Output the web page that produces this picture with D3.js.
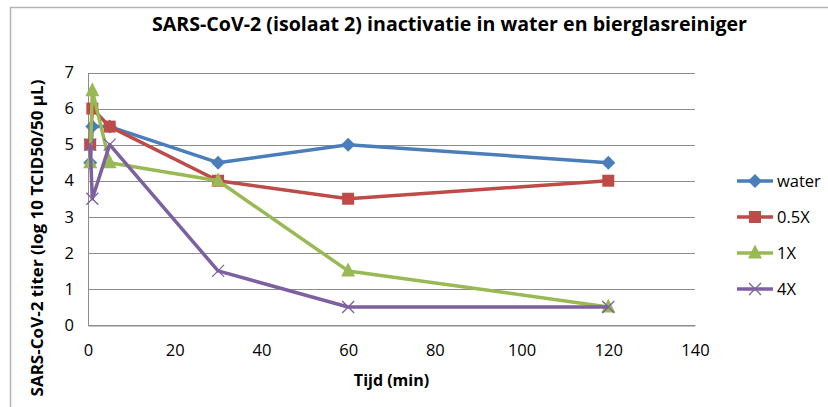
<!DOCTYPE html>
<html>
<head>
<meta charset="utf-8">
<script src="https://cdn.jsdelivr.net/npm/d3@7"></script>
<style>
  body { margin: 0; background: #fff; }
  text { font-family: 'Open Sans', 'Noto Sans', sans-serif; fill: #000; }
</style>
</head>
<body>
<svg width="828" height="407"></svg>
<script>
// sampling moments (min)
const times = [0.5, 1, 5, 30, 60, 120];

const water = [4.5, 5.5, 5.5, 4.5, 5.0, 4.5];
const half = [5.0, 6.0, 5.5, 4.0, 3.5, 4.0];
const one = [4.5, 6.5, 4.5, 4.0, 1.5, 0.5];
const four = [5.0, 3.5, 5.0, 1.5, 0.5, 0.5];

const seriesNames = ['water', '0.5X', '1X', '4X'];
const xTicks = [0, 20, 40, 60, 80, 100, 120, 140];
const yTicks = [0, 1, 2, 3, 4, 5, 6, 7];

const colors = ['#4a7ebb', '#be4b48', '#98b954', '#7d60a0'];
const markers = ['diamond', 'square', 'triangle', 'x'];

const series = [water, half, one, four].map((vals, i) => ({
    name: seriesNames[i],
    color: colors[i],
    marker: markers[i],
    points: vals.map((v, j) => ({ t: times[j], v })),
}));

const svg = d3.select('svg');

const plot = { left: 88, right: 695, top: 72.5, bottom: 325 };

const x = d3.scaleLinear()
    .domain([0, 140])
    .range([plot.left, plot.right]);

const y = d3.scaleLinear()
    .domain([0, 7])
    .range([plot.bottom, plot.top]);

// outer chart frame (cropped on right and bottom)
svg.append('path')
    .attr('d', 'M10.5,407 V7.5 H828')
    .attr('fill', 'none')
    .attr('stroke', '#b3b3b3')
    .attr('stroke-width', 1.5);

svg.append('text')
    .attr('x', 152)
    .attr('y', 31)
    .attr('font-size', 19)
    .attr('font-weight', 'bold')
    .attr('textLength', 595)
    .attr('lengthAdjust', 'spacingAndGlyphs')
    .text('SARS-CoV-2 (isolaat 2) inactivatie in water en bierglasreiniger');

// gridlines
svg.append('g')
    .selectAll('line')
    .data(yTicks)
    .join('line')
    .attr('x1', plot.left)
    .attr('x2', plot.right)
    .attr('y1', d => Math.round(y(d)) + 0.5)
    .attr('y2', d => Math.round(y(d)) + 0.5)
    .attr('stroke', '#8c8c8c')
    .attr('stroke-width', 1);

// axes
const yAxis = svg.append('g')
    .attr('transform', `translate(${plot.left},0)`)
    .call(d3.axisLeft(y).tickValues(yTicks).tickSize(0).tickPadding(14).tickFormat(d3.format('d')));

const xAxis = svg.append('g')
    .attr('transform', `translate(0,${Math.round(plot.bottom) + 0.5})`)
    .call(d3.axisBottom(x).tickValues(xTicks).tickSize(0).tickPadding(19).tickFormat(d3.format('d')));

[xAxis, yAxis].forEach((g) => {
    g.select('.domain').attr('stroke', '#8c8c8c');
    g.selectAll('text')
        .attr('font-size', 16.5)
        .attr('font-family', "'Open Sans', sans-serif");
});

svg.append('text')
    .attr('x', (plot.left + plot.right) / 2)
    .attr('y', 386)
    .attr('text-anchor', 'middle')
    .attr('font-size', 16)
    .attr('font-weight', 'bold')
    .text('Tijd (min)');

svg.append('text')
    .attr('transform', 'translate(43,238) rotate(-90)')
    .attr('text-anchor', 'middle')
    .attr('font-size', 15.5)
    .attr('font-weight', 'bold')
    .attr('textLength', 317)
    .attr('lengthAdjust', 'spacingAndGlyphs')
    .text('SARS-CoV-2 titer (log 10 TCID50/50 µL)');

function markerPath(type, r) {
    if (type === 'diamond') return `M0,${-r}L${r},0L0,${r}L${-r},0Z`;
    if (type === 'square') return `M${-r},${-r}H${r}V${r}H${-r}Z`;
    if (type === 'triangle') return `M0,${-r * 1.2}L${r},${r * 0.8}L${-r},${r * 0.8}Z`;
    return `M${-r},${-r}L${r},${r}M${-r},${r}L${r},${-r}`;
}
const markerSize = { diamond: 7, square: 6, triangle: 7, x: 6 };

function drawMarker(sel, s) {
    sel.append('path')
        .attr('d', markerPath(s.marker, markerSize[s.marker]))
        .attr('fill', s.marker === 'x' ? 'none' : s.color)
        .attr('stroke', s.marker === 'x' ? s.color : 'none')
        .attr('stroke-width', 1.3);
}

const line = d3.line()
    .x(d => x(d.t))
    .y(d => y(d.v));

series.forEach((s) => {
    const g = svg.append('g');
    g.append('path')
        .datum(s.points)
        .attr('d', line)
        .attr('fill', 'none')
        .attr('stroke', s.color)
        .attr('stroke-width', 3.5)
        .attr('stroke-linejoin', 'round');

    g.selectAll('g.pt')
        .data(s.points)
        .join('g')
        .attr('class', 'pt')
        .attr('transform', d => `translate(${x(d.t)},${y(d.v)})`)
        .each(function m() { drawMarker(d3.select(this), s); });
});

// legend
const legend = svg.append('g')
    .selectAll('g')
    .data(series)
    .join('g')
    .attr('transform', (d, i) => `translate(737,${181 + i * 36})`);

legend.append('line')
    .attr('x1', 0)
    .attr('x2', 36)
    .attr('stroke', d => d.color)
    .attr('stroke-width', 3.5);

legend.append('g')
    .attr('transform', 'translate(18,0)')
    .each(function m(d) { drawMarker(d3.select(this), d); });

legend.append('text')
    .attr('x', 40)
    .attr('dy', '0.35em')
    .attr('font-size', 16.5)
    .text(d => d.name);
</script>
</body>
</html>
